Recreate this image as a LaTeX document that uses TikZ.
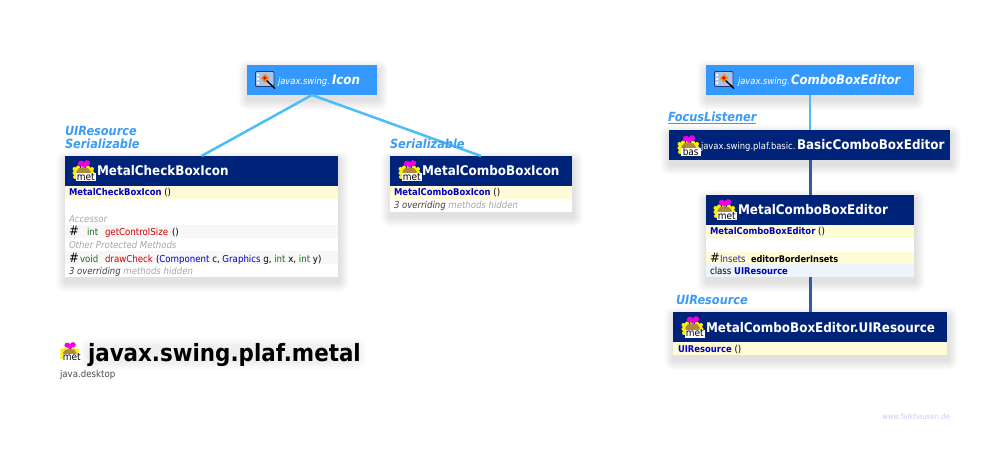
\documentclass[tikz,border=0pt]{standalone}
\usepackage{fontspec}
\setmainfont{DejaVu Sans Condensed}
\usetikzlibrary{calc}
\definecolor{navy}{HTML}{00237A}
\definecolor{ifaceblue}{HTML}{3399FF}
\definecolor{rowyellow}{HTML}{FFFBD6}
\definecolor{rowgrey}{HTML}{F7F7F7}
\definecolor{rowblue}{HTML}{EBF5FB}
\definecolor{linklight}{HTML}{4DBDF8}
\definecolor{linkdark}{HTML}{2F5BA8}
\definecolor{labelblue}{HTML}{3C9BF5}
\definecolor{mname}{HTML}{D00000}
\definecolor{cname}{HTML}{0000C0}
\definecolor{tname}{HTML}{1F6B1F}
\definecolor{hint}{HTML}{A6A6A6}
\definecolor{pkyellow}{HTML}{FFF200}
\definecolor{pkbrown}{HTML}{B08A3C}
\definecolor{pkpink}{HTML}{F000E0}
\definecolor{wframe}{HTML}{A9C4E8}
\definecolor{wborder}{HTML}{1F3C78}
\newcommand\fs[1]{\fontsize{#1}{#1}\selectfont}
\newcommand\bn[1]{\textcolor{cname}{\fs{9.35}\bfseries #1}}
\newcommand\softshadow[4]{%
  \foreach \i in {1,...,10}{
    \fill[black,opacity=0.012,rounded corners=\i pt]
      ({#1+1-\i},{#2+5-\i}) rectangle ({#3+1+\i},{#4+5+\i});
  }}
\newcommand\pkgicon[4][1]{%
  \begin{scope}[shift={(#2,#3)},scale=#1]
    \fill[pkyellow] (1.5,9) circle (2pt) (1.5,13) circle (2pt) (2,17) circle (2pt)
       (5,7.5) circle (2pt) (10,7) circle (2pt) (15,7.5) circle (2pt)
       (19,9) circle (2pt) (19.5,13) circle (2pt) (19,16) circle (2pt);
    \fill[pkyellow] (1.5,8) rectangle (19.5,18);
    \fill[pkbrown,rounded corners=2pt] (4,9) -- (8,7.5) -- (13,7.5) -- (17.5,9.5) -- (18,14) -- (3,14) -- cycle;
    \fill[pkpink] (8,3.5) ellipse (3.2pt and 2.8pt) (14,3) ellipse (3.2pt and 2.8pt) (11,5.5) circle (2.2pt);
    \fill[white] (3,13.5) rectangle (22.5,21.5);
    \node[anchor=base,inner sep=0pt,text=black] at (12.7,20.5) {\fs{10}#4};
  \end{scope}}
\newcommand\ifaceicon[2]{%
  \begin{scope}[shift={(#1,#2)}]
    \fill[wframe,draw=wborder,line width=0.8pt,rounded corners=1pt] (0.5,0.5) rectangle (19,15.5);
    \fill[white] (2,3) rectangle (4,5) (2,7) rectangle (4,9) (2,11) rectangle (4,13);
    \draw[black,line width=1.4pt] (11,9) -- (20,17.5);
    \fill[orange] (10,3) -- (14,7) -- (9.5,11.5) -- (6,7) -- cycle;
    \fill[red!80!black] (9.8,7) circle (1.6pt);
  \end{scope}}
\tikzset{
  x=1pt,y=-1pt,
  box/.style={anchor=north west,inner sep=0pt,outer sep=0pt,minimum height=#1},
  headbox/.style={box=30pt,fill=navy},
  ifacebox/.style={box=30pt,fill=ifaceblue},
  yrow/.style={box=13pt,fill=rowyellow},
  greyrow/.style={box=13pt,fill=rowgrey},
  brow/.style={box=13pt,fill=rowblue},
  wrow/.style={box=#1,fill=white},
  txt/.style={anchor=base west,inner sep=0pt,outer sep=0pt},
  head/.style={txt,text=white,font=\fs{13.3}\bfseries},
  row/.style={txt,text=black,font=\fs{9.6}},
  hid/.style={txt,text=hint,font=\fs{9.5}\itshape},
  impl/.style={txt,text=labelblue,font=\fs{12.6}\bfseries\itshape},
  linkL/.style={draw=linklight,line width=2.5pt},
  linkD/.style={draw=linkdark,line width=3pt},
}
\begin{document}
\begin{tikzpicture}
\useasboundingbox (0,0) rectangle (1006,462);
\fill[white] (0,0) rectangle (1006,462);
% shadows
\softshadow{247}{65}{377}{95}
\softshadow{65}{156}{338}{277}
\softshadow{390}{156}{572}{212}
\softshadow{706}{65}{914}{95}
\softshadow{669}{130}{950}{160}
\softshadow{706}{195}{914}{277}
\softshadow{673}{312}{947}{355}
\foreach \i in {1,...,8}{\fill[black,opacity=0.006,rounded corners=8pt] ({88-\i},{346-\i}) rectangle ({358+\i},{362+\i});}
% boxes
\node[ifacebox,minimum width=130pt] (icon) at (247,65) {};
\node[headbox,minimum width=273pt] (chk) at (65,156) {};
\node[yrow,minimum width=273pt] (chkr1) at (65,186) {};
\node[wrow=78pt,minimum width=273pt] (chkbody) at (65,199) {};
\node[greyrow,minimum width=273pt] (chkr2) at (65,225) {};
\node[greyrow,minimum width=273pt] (chkr3) at (65,251) {};
\node[headbox,minimum width=182pt] (cbx) at (390,156) {};
\node[yrow,minimum width=182pt] (cbxr1) at (390,186) {};
\node[wrow=13pt,minimum width=182pt] (cbxr2) at (390,199) {};
\node[ifacebox,minimum width=208pt] (editor) at (706,65) {};
\node[headbox,minimum width=281pt] (basic) at (669,130) {};
\node[headbox,minimum width=208pt] (mced) at (706,195) {};
\node[yrow,minimum width=208pt] (mcedr1) at (706,225) {};
\node[wrow=14pt,minimum width=208pt] (mcedgap) at (706,238) {};
\node[yrow,minimum width=208pt] (mcedr2) at (706,252) {};
\node[brow,minimum width=208pt] (mcedr3) at (706,264) {};
\node[headbox,minimum width=274pt] (uires) at (673,312) {};
\node[yrow,minimum width=274pt] (uiresr1) at (673,342) {};
% connectors
\draw[linkL] (icon.south) -- (chk.north);
\draw[linkL] (icon.south) -- (cbx.north);
\draw[linkL] (editor.south) -- (editor.south |- basic.north);
\draw[linkD] (editor.south |- basic.south) -- (mced.north);
\draw[linkD] (mcedr3.south) -- (mcedr3.south |- uires.north);
% icons
\ifaceicon{255}{71}
\ifaceicon{714}{71}
\pkgicon{73}{160}{met}
\pkgicon{399}{160}{met}
\pkgicon{678}{135}{bas}
\pkgicon{714}{199}{met}
\pkgicon{682}{316}{met}
% interface and class titles
\node[txt,text=white,font=\fs{9.3}\itshape] (iconpk) at (278,85) {javax.swing.};
\node[txt,text=white,font=\fs{13.2}\bfseries\itshape] (icont) at (332,85) {Icon};
\node[txt,text=white,font=\fs{9.3}\itshape] (edpk) at (738,85) {javax.swing.};
\node[txt,text=white,font=\fs{13}\bfseries\itshape] (edt) at (791,85) {ComboBoxEditor};
\node[head] (chkt) at (97,176) {MetalCheckBoxIcon};
\node[head] (cbxt) at (422,176) {MetalComboBoxIcon};
\node[txt,text=white,font=\fs{9.35}] (baspk) at (701,150) {javax.swing.plaf.basic.};
\node[head] (bast) at (797,150) {BasicComboBoxEditor};
\node[head] (mcedt) at (738,215) {MetalComboBoxEditor};
\node[head] (uirest) at (706,332) {MetalComboBoxEditor.UIResource};
% implemented-interface labels
\node[impl] (l1) at (65,136) {UIResource};
\node[impl] (l2) at (65,149) {Serializable};
\node[impl] (l3) at (390,149) {Serializable};
\node[impl] (l4) at (668,122) {\underline{FocusListener}};
\node[impl] (l5) at (676,304) {UIResource};
% MetalCheckBoxIcon members
\node[row] (a1) at (69,196) {\bn{MetalCheckBoxIcon} ()};
\node[hid] (a2) at (69,223) {Accessor};
\node[row,font=\fs{13}] (a3) at (69,236) {\#};
\node[row,text=tname] (a4) at (87,236) {int};
\node[row,text=mname] (a5) at (105,236) {getControlSize};
\node[row] (a6) at (172,236) {()};
\node[hid] (a7) at (69,249) {Other Protected Methods};
\node[row,font=\fs{13}] (a8) at (69,262) {\#};
\node[row,text=tname] (a9) at (80,262) {void};
\node[row,text=mname] (a10) at (105,262) {drawCheck};
\node[row] (a11) at (156,262) {(\textcolor{cname}{Component} c, \textcolor{cname}{Graphics} g, \textcolor{tname}{int} x, \textcolor{tname}{int} y)};
\node[hid] (a12) at (69,275) {\textcolor{black!75}{3 overriding} methods hidden};
% MetalComboBoxIcon members
\node[row] (b1) at (394,196) {\bn{MetalComboBoxIcon} ()};
\node[hid] (b2) at (394,209) {\textcolor{black!75}{3 overriding} methods hidden};
% MetalComboBoxEditor members
\node[row] (c1) at (710,235) {\bn{MetalComboBoxEditor} ()};
\node[row,font=\fs{13}] (c2) at (710,262) {\#};
\node[row,text=cname!70!gray] (c3) at (720,262) {Insets};
\node[row,font=\fs{9.1}\bfseries] (c4) at (751,262) {editorBorderInsets};
\node[row] (c5) at (710,275) {class \bn{UIResource}};
\node[row] (d1) at (678,352) {\bn{UIResource} ()};
% package title
\pkgicon[0.92]{60}{342}{met}
\node[txt,text=black,font=\fs{23.8}\bfseries] (title) at (88,361) {javax.swing.plaf.metal};
\node[txt,text=black!70,font=\fs{9.6}] (module) at (60,377) {java.desktop};
\node[txt,text=black!20!blue!20,font=\fs{7.8}] (www) at (882,419) {www.falkhausen.de};
\end{tikzpicture}
\end{document}
